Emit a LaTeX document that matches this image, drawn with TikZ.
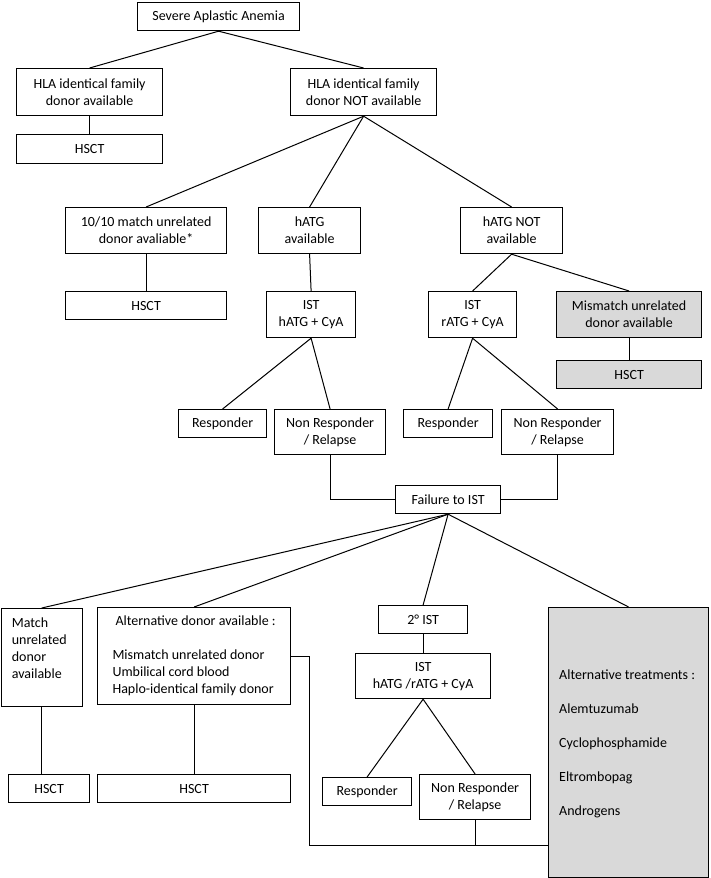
\documentclass[tikz,border=0pt]{standalone}
\usepackage{fontspec}
\setmainfont{Carlito}
\begin{document}
\begin{tikzpicture}[x=1pt,y=-1pt,
  box/.style={draw, line width=1.2pt, inner sep=0pt, align=center, anchor=north west,
    font=\fontsize{14}{17}\selectfont},
  graybox/.style={box, fill=black!15},
  txt/.style={inner sep=0pt, align=left, font=\fontsize{14}{17}\selectfont},
  conn/.style={line width=1pt}]
\useasboundingbox (0,0) rectangle (710,878);
% level 1
\node[box, minimum width=162, minimum height=28] (saa) at (137,2) {Severe Aplastic Anemia};
\node[box, minimum width=146, minimum height=47] (hla) at (16,68) {HLA identical family\\donor available};
\node[box, minimum width=146, minimum height=47] (hlan) at (290,68) {HLA identical family\\donor NOT available};
\node[box, minimum width=146, minimum height=29] (hsct1) at (16,134) {HSCT};
% level 2
\node[box, minimum width=161, minimum height=46] (m1010) at (65,207) {10/10 match unrelated\\donor avaliable*};
\node[box, minimum width=102, minimum height=46] (hatg) at (258,207) {hATG\\available};
\node[box, minimum width=102, minimum height=46] (hatgn) at (460,207) {hATG NOT\\available};
\node[box, minimum width=161, minimum height=28] (hsct2) at (65,291) {HSCT};
\node[box, minimum width=89, minimum height=46] (isth) at (266,291) {IST\\hATG + CyA};
\node[box, minimum width=88, minimum height=46] (istr) at (428,291) {IST\\rATG + CyA};
\node[graybox, minimum width=145, minimum height=46] (mism) at (556,291) {Mismatch unrelated\\donor available};
\node[graybox, minimum width=145, minimum height=28] (hsct3) at (556,360) {HSCT};
% level 3
\node[box, minimum width=88, minimum height=28] (resp1) at (178,409) {Responder};
\node[box, minimum width=111, minimum height=45] (nr1) at (274,409) {Non Responder\\/ Relapse};
\node[box, minimum width=89, minimum height=28] (resp2) at (403,409) {Responder};
\node[box, minimum width=112, minimum height=45] (nr2) at (501,409) {Non Responder\\/ Relapse};
\node[box, minimum width=105, minimum height=28] (fail) at (395,485) {Failure to IST};
% level 4
\node[box, minimum width=81, minimum height=98] (match) at (0.6,608) {};
\node[txt, anchor=north west] (matcht) at ([xshift=11pt,yshift=-10pt]match.north west) {Match\\unrelated\\donor\\available};
\node[box, align=left, minimum width=193, minimum height=97] (altd) at (97,607) {\hspace*{3pt}Alternative donor available :\\[17pt]Mismatch unrelated donor\\Umbilical cord blood\\Haplo-identical family donor};
\node[box, minimum width=89, minimum height=28] (ist2) at (378,605) {2° IST};
\node[box, minimum width=135, minimum height=45] (ist3) at (355,653) {IST\\hATG /rATG + CyA};
\node[graybox, minimum width=160, minimum height=269.5] (altt) at (548,607) {};
\node[txt, anchor=west] (alttt) at ([xshift=11pt,yshift=-1pt]altt.west) {Alternative treatments :\\[17pt]Alemtuzumab\\[17pt]Cyclophosphamide\\[17pt]Eltrombopag\\[17pt]Androgens};
\node[box, minimum width=81, minimum height=28] (hsct4) at (8,774) {HSCT};
\node[box, minimum width=193, minimum height=28] (hsct5) at (97,774) {HSCT};
\node[box, minimum width=89, minimum height=28] (resp3) at (322,777) {Responder};
\node[box, minimum width=111, minimum height=45] (nr3) at (419,774) {Non Responder\\/ Relapse};
% connectors
\draw[conn] (hla.north) -- (saa.south) -- (hlan.north);
\draw[conn] (hla.south) -- (hsct1.north);
\draw[conn] (hlan.south) -- (m1010.north);
\draw[conn] (hlan.south) -- (hatg.north);
\draw[conn] (hlan.south) -- (hatgn.north);
\draw[conn] (m1010.south) -- (hsct2.north);
\draw[conn] (hatg.south) -- (isth.north);
\draw[conn] (istr.north) -- (hatgn.south) -- (mism.north);
\draw[conn] (mism.south) -- (hsct3.north);
\draw[conn] (resp1.north) -- (isth.south) -- (nr1.north);
\draw[conn] (resp2.north) -- (istr.south) -- (nr2.north);
\draw[conn] (nr1.south) |- (fail.west);
\draw[conn] (nr2.south) |- (fail.east);
\draw[conn] (fail.south) -- (match.north);
\draw[conn] (fail.south) -- (altd.north);
\draw[conn] (fail.south) -- (ist2.north);
\draw[conn] (fail.south) -- (altt.north);
\draw[conn] (match.south) -- (match.south |- hsct4.north);
\draw[conn] (altd.south) -- (hsct5.north);
\draw[conn] (ist2.south) -- (ist3.north);
\draw[conn] (resp3.north) -- (ist3.south) -- (nr3.north);
\coordinate (jn) at (309,845);
\draw[conn] (altd.east) -| (jn) -- (jn -| altt.west);
\draw[conn] (nr3.south) -- (nr3.south |- jn);
\end{tikzpicture}
\end{document}
